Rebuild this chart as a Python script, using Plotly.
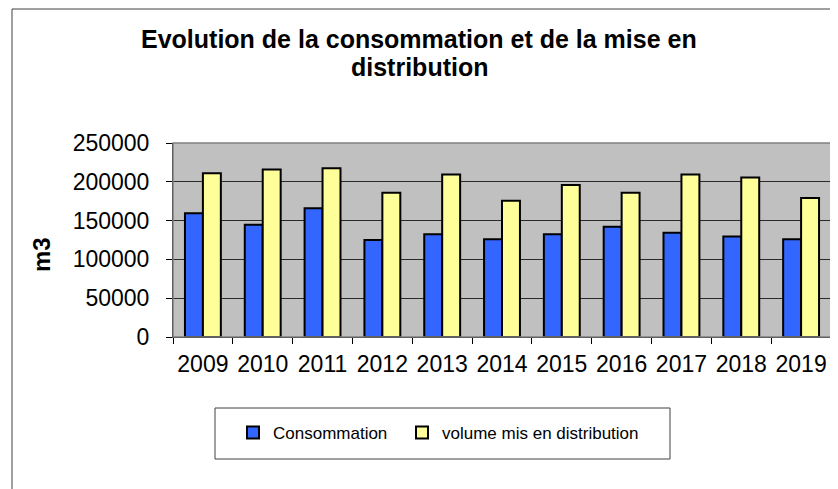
import plotly.graph_objects as go

annees = ["2009", "2010", "2011", "2012", "2013", "2014", "2015", "2016", "2017", "2018", "2019"]
consommation = [159500, 144500, 166000, 125000, 132500, 126000, 132500, 142000, 134500, 129500, 126000]
volume_distribution = [211000, 216000, 217500, 186000, 209500, 175500, 196000, 186000, 209500, 205500, 179000]

FONT = "Liberation Sans, Arial, sans-serif"

# page has an 8px body margin, so work in figure pixels = screen pixels - 8
OFF = 8
W, H = 838 - OFF, 489 - OFF
L, T = 173 - OFF, 143 - OFF
R = W - (831 - OFF)
B = H - (337 - OFF)
PW, PH = W - L - R, H - T - B


def px_x(x):
    # screen pixel -> paper fraction
    return (x - OFF - L) / PW


def px_y(y):
    return (H - B - (y - OFF)) / PH


fig = go.Figure()

fig.add_trace(go.Bar(
    x=annees,
    y=consommation,
    name="Consommation",
    legendwidth=124,
    marker=dict(color="#3366FF", line=dict(color="black", width=2)),
))
fig.add_trace(go.Bar(
    x=annees,
    y=volume_distribution,
    name="volume mis en distribution",
    legendwidth=215,
    marker=dict(color="#FFFF99", line=dict(color="black", width=2)),
))

fig.update_layout(
    width=W,
    height=H,
    margin=dict(l=L, r=R, t=T, b=B, autoexpand=False),
    paper_bgcolor="white",
    plot_bgcolor="#C0C0C0",
    barmode="group",
    bargap=0.4,
    bargroupgap=0,
    font=dict(family=FONT, color="black"),
    showlegend=True,
    legend=dict(
        orientation="h",
        x=px_x(233),
        y=px_y(433),
        xanchor="left",
        yanchor="middle",
        font=dict(size=17, family=FONT),
        bgcolor="rgba(0,0,0,0)",
    ),
)

fig.update_xaxes(
    type="category",
    range=[-0.5, 10.5],
    showline=True,
    linecolor="black",
    linewidth=1,
    ticks="outside",
    tickson="boundaries",
    ticklen=6,
    tickcolor="black",
    tickangle=0,
    tickfont=dict(size=23, family=FONT),
    ticklabelstandoff=6,
    showgrid=False,
    fixedrange=True,
)

fig.update_yaxes(
    range=[0, 250000],
    dtick=50000,
    tickformat="d",
    showline=True,
    linecolor="black",
    linewidth=1,
    ticks="outside",
    ticklen=6,
    tickcolor="black",
    tickfont=dict(size=23, family=FONT),
    ticklabelstandoff=12,
    showgrid=True,
    gridcolor="#2a2a2a",
    gridwidth=1,
    zeroline=False,
    fixedrange=True,
)

# titles
fig.add_annotation(
    text="<b>Evolution de la consommation et de la mise en</b>",
    x=px_x(419), y=px_y(39), xref="paper", yref="paper",
    xanchor="center", yanchor="middle", showarrow=False,
    font=dict(size=25, family=FONT, color="black"),
)
fig.add_annotation(
    text="<b>distribution</b>",
    x=px_x(419), y=px_y(67), xref="paper", yref="paper",
    xanchor="center", yanchor="middle", showarrow=False,
    font=dict(size=25, family=FONT, color="black"),
)
fig.add_annotation(
    text="<b>m3</b>",
    x=px_x(41), y=px_y(255), xref="paper", yref="paper",
    xanchor="center", yanchor="middle", showarrow=False, textangle=-90,
    font=dict(size=24, family=FONT, color="black"),
)

# plot area border (top/right gray)
fig.add_shape(type="rect", xref="paper", yref="paper", x0=0, x1=1, y0=0, y1=1,
              line=dict(color="#808080", width=1.5), layer="above")
# outer chart frame
fig.add_shape(type="rect", xref="paper", yref="paper",
              x0=px_x(12), x1=px_x(850), y0=px_y(9), y1=px_y(500),
              line=dict(color="#404040", width=1))
# legend frame
fig.add_shape(type="rect", xref="paper", yref="paper",
              x0=px_x(215), x1=px_x(670), y0=px_y(408), y1=px_y(459),
              line=dict(color="#404040", width=1))

fig.write_html("out.html")
